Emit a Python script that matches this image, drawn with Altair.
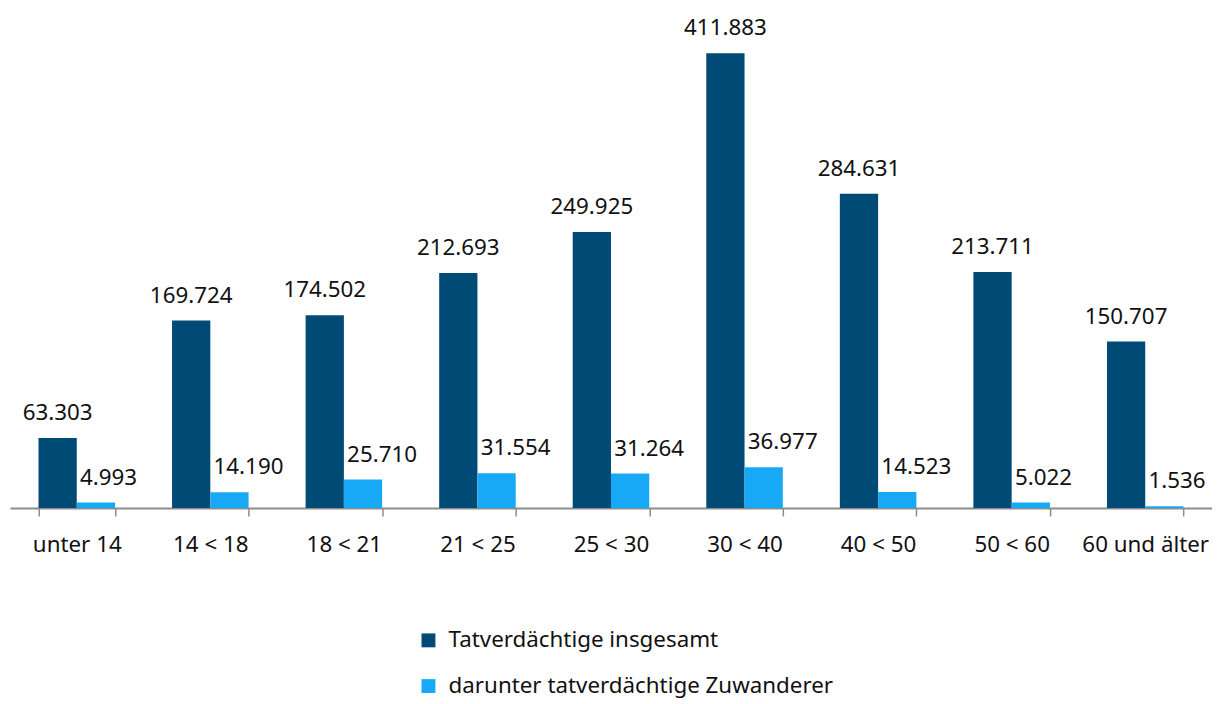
import altair as alt
import pandas as pd

categories = ["unter 14", "14 < 18", "18 < 21", "21 < 25", "25 < 30",
              "30 < 40", "40 < 50", "50 < 60", "60 und älter"]
insgesamt = [63303, 169724, 174502, 212693, 249925, 411883, 284631, 213711, 150707]
zuwanderer = [4993, 14190, 25710, 31554, 31264, 36977, 14523, 5022, 1536]
series = ["Tatverdächtige insgesamt", "darunter tatverdächtige Zuwanderer"]
colors = ["#004A76", "#17A9F6"]

rows = []
for c, a, b in zip(categories, insgesamt, zuwanderer):
    rows.append(dict(cat=c, series=series[0], value=a))
    rows.append(dict(cat=c, series=series[1], value=b))
df = pd.DataFrame(rows)
df["label"] = df["value"].map(lambda v: f"{v:,}".replace(",", "."))

FONT = "Noto Sans"
FS = 22.5
W, H = 1210, 478

x_enc = alt.X(
    "cat:N", sort=categories, title=None,
    scale=alt.Scale(paddingInner=0.427, paddingOuter=0.2135),
    axis=alt.Axis(labelAngle=0, labelFontSize=FS, labelFont=FONT, labelColor="#111111",
                  domainColor="#8C8C8C", domainWidth=2, tickColor="#8C8C8C",
                  tickWidth=1.5, tickSize=8, tickBand="extent", labelPadding=18,
                  grid=False, labelLimit=0),
)
xoff = alt.XOffset("series:N", sort=series,
                   scale=alt.Scale(domain=series, paddingInner=0, paddingOuter=0))
y_enc = alt.Y("value:Q", scale=alt.Scale(domain=[0, 430000]), axis=None)

base = alt.Chart(df)

bars = base.mark_bar().encode(
    x=x_enc, xOffset=xoff, y=y_enc,
    color=alt.Color("series:N", sort=series,
                    scale=alt.Scale(domain=series, range=colors),
                    legend=alt.Legend(title=None, orient="none", legendX=410, legendY=600,
                                      direction="vertical", symbolType="square",
                                      symbolSize=196, symbolStrokeWidth=0,
                                      labelFontSize=FS, labelFont=FONT, labelColor="#111111",
                                      labelOffset=9, rowPadding=23, padding=0,
                                      labelLimit=0)),
)

t1 = base.transform_filter(alt.datum.series == series[0]).mark_text(
    baseline="alphabetic", align="center", dy=-18, fontSize=FS, font=FONT, color="#111111"
).encode(x=x_enc, xOffset=xoff, y=y_enc, text="label:N")

t2 = base.transform_filter(alt.datum.series == series[1]).mark_text(
    baseline="alphabetic", align="left", dx=-16, dy=-18, fontSize=FS, font=FONT, color="#111111"
).encode(x=x_enc, xOffset=xoff, y=y_enc, text="label:N")

chart = alt.layer(bars, t1, t2).properties(
    width=W, height=H,
    padding={"left": 2, "top": 23, "right": 0, "bottom": 195},
    autosize=alt.AutoSizeParams(type="none"),
).configure(background="white").configure_view(stroke=None, strokeWidth=0)

chart.save("out.html", embed_options={"renderer": "svg", "actions": False})
